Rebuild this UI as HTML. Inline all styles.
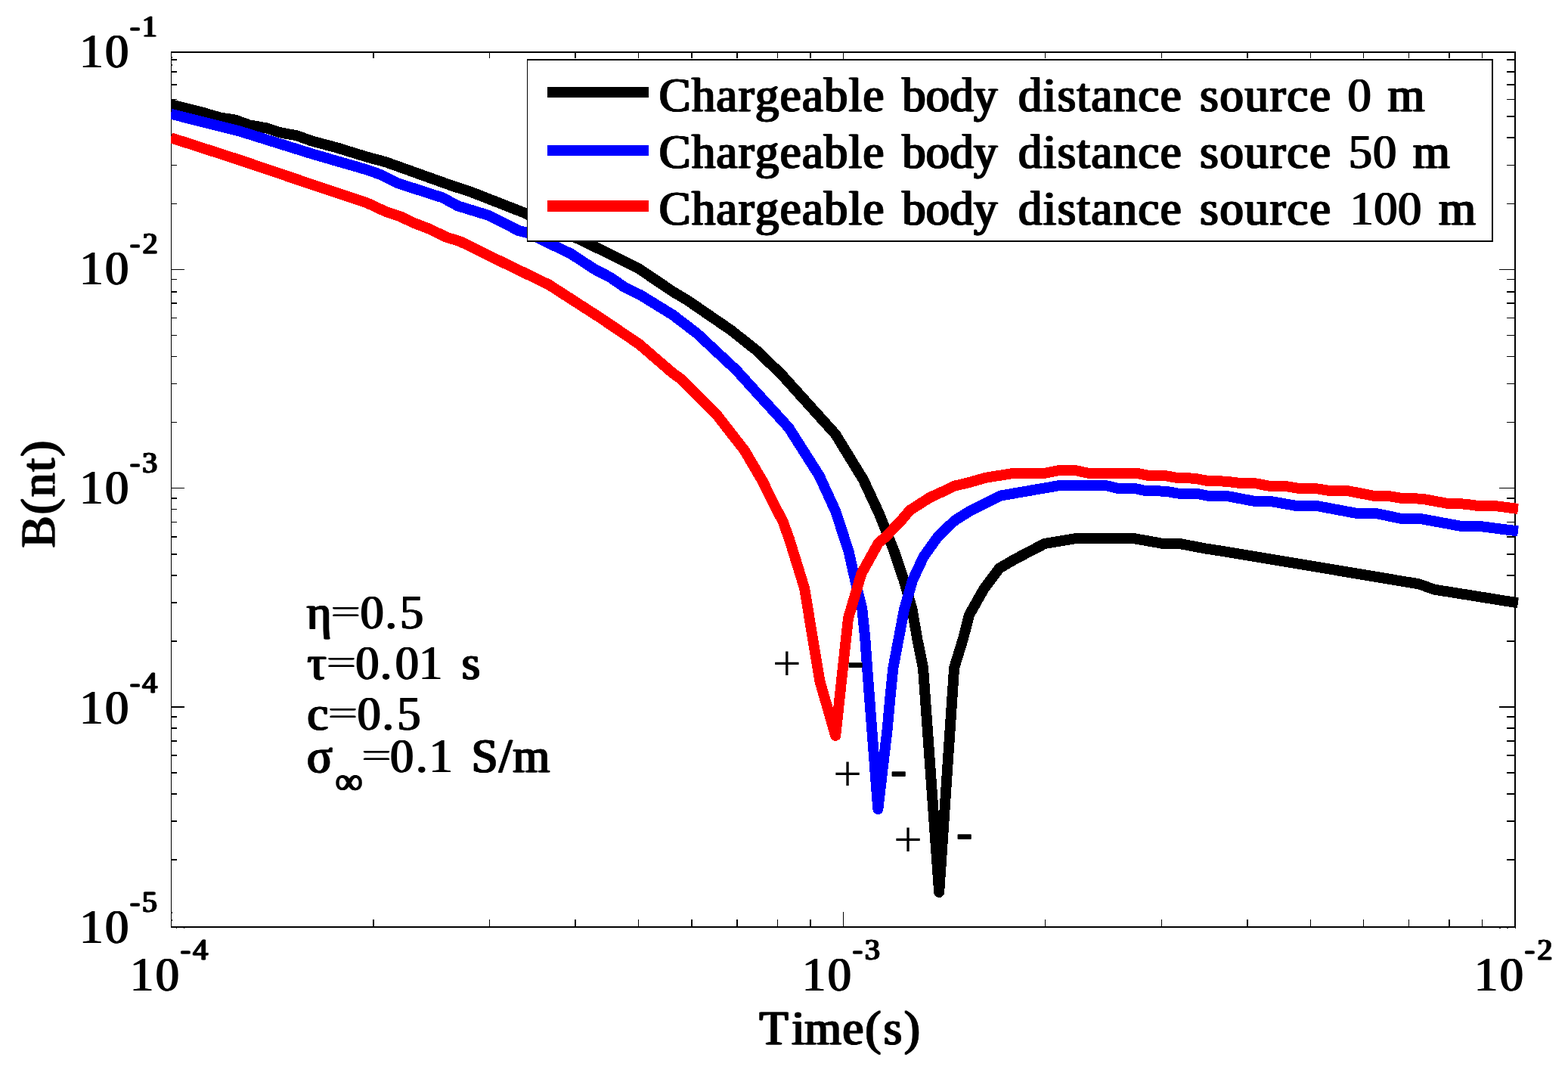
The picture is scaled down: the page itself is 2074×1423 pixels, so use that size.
<!DOCTYPE html>
<html lang="en">
<head>
<meta charset="utf-8">
<title>B(nt) versus Time(s) for a chargeable body at three source distances</title>
<style>
html,body{margin:0;padding:0;background:#fff;}
body{width:2074px;height:1423px;overflow:hidden;}
svg{display:block;}
</style>
</head>
<body>
<svg width="2074" height="1423" viewBox="0 0 2074 1423">
<rect x="0" y="0" width="2074" height="1423" fill="#fff"/>
<g fill="#000" shape-rendering="crispEdges">
<rect x="226" y="68" width="1.2" height="1159"/>
<rect x="2003" y="68" width="2" height="1159"/>
<rect x="226" y="68" width="1779" height="2"/>
<rect x="226" y="1225" width="1779" height="2"/>
<rect x="493.0" y="1216.0" width="2.0" height="9"/>
<rect x="493.0" y="70.0" width="2.0" height="7"/>
<rect x="647.1" y="1216.0" width="1.1" height="9"/>
<rect x="647.1" y="70.0" width="1.1" height="7"/>
<rect x="760.0" y="1216.0" width="2.0" height="9"/>
<rect x="760.0" y="70.0" width="2.0" height="7"/>
<rect x="844.2" y="1216.0" width="1.1" height="9"/>
<rect x="844.2" y="70.0" width="1.1" height="7"/>
<rect x="914.0" y="1216.0" width="2.0" height="9"/>
<rect x="914.0" y="70.0" width="2.0" height="7"/>
<rect x="974.0" y="1216.0" width="2.0" height="9"/>
<rect x="974.0" y="70.0" width="2.0" height="7"/>
<rect x="1027.8" y="1216.0" width="1.1" height="9"/>
<rect x="1027.8" y="70.0" width="1.1" height="7"/>
<rect x="1071.0" y="1216.0" width="2.0" height="9"/>
<rect x="1071.0" y="70.0" width="2.0" height="7"/>
<rect x="1114.9" y="1206.0" width="1.1" height="19"/>
<rect x="1114.9" y="70.0" width="1.1" height="17"/>
<rect x="1382.2" y="1216.0" width="1.1" height="9"/>
<rect x="1382.2" y="70.0" width="1.1" height="7"/>
<rect x="1536.0" y="1216.0" width="1.1" height="9"/>
<rect x="1536.0" y="70.0" width="1.1" height="7"/>
<rect x="1649.0" y="1216.0" width="2.0" height="9"/>
<rect x="1649.0" y="70.0" width="2.0" height="7"/>
<rect x="1732.9" y="1216.0" width="1.1" height="9"/>
<rect x="1732.9" y="70.0" width="1.1" height="7"/>
<rect x="1803.0" y="1216.0" width="1.1" height="9"/>
<rect x="1803.0" y="70.0" width="1.1" height="7"/>
<rect x="1863.0" y="1216.0" width="1.1" height="9"/>
<rect x="1863.0" y="70.0" width="1.1" height="7"/>
<rect x="1916.0" y="1216.0" width="2.0" height="9"/>
<rect x="1916.0" y="70.0" width="2.0" height="7"/>
<rect x="1960.0" y="1216.0" width="1.1" height="9"/>
<rect x="1960.0" y="70.0" width="1.1" height="7"/>
<rect x="227" y="1136.2" width="7" height="1.6"/>
<rect x="1993" y="1136.2" width="10" height="1.6"/>
<rect x="227" y="1085.3" width="7" height="1.6"/>
<rect x="1993" y="1085.3" width="10" height="1.6"/>
<rect x="227" y="1049.2" width="7" height="1.6"/>
<rect x="1993" y="1049.2" width="10" height="1.6"/>
<rect x="227" y="1021.1" width="7" height="1.6"/>
<rect x="1993" y="1021.1" width="10" height="1.6"/>
<rect x="227" y="998.2" width="7" height="1.6"/>
<rect x="1993" y="998.2" width="10" height="1.6"/>
<rect x="227" y="978.9" width="7" height="1.6"/>
<rect x="1993" y="978.9" width="10" height="1.6"/>
<rect x="227" y="962.1" width="7" height="1.6"/>
<rect x="1993" y="962.1" width="10" height="1.6"/>
<rect x="227" y="947.3" width="7" height="1.6"/>
<rect x="1993" y="947.3" width="10" height="1.6"/>
<rect x="227" y="934.1" width="17" height="1.6"/>
<rect x="1983" y="934.1" width="20" height="1.6"/>
<rect x="227" y="847.0" width="7" height="1.6"/>
<rect x="1993" y="847.0" width="10" height="1.6"/>
<rect x="227" y="796.0" width="7" height="1.6"/>
<rect x="1993" y="796.0" width="10" height="1.6"/>
<rect x="227" y="759.9" width="7" height="1.6"/>
<rect x="1993" y="759.9" width="10" height="1.6"/>
<rect x="227" y="731.9" width="7" height="1.6"/>
<rect x="1993" y="731.9" width="10" height="1.6"/>
<rect x="227" y="709.0" width="7" height="1.6"/>
<rect x="1993" y="709.0" width="10" height="1.6"/>
<rect x="227" y="689.6" width="7" height="1.6"/>
<rect x="1993" y="689.6" width="10" height="1.6"/>
<rect x="227" y="672.8" width="7" height="1.6"/>
<rect x="1993" y="672.8" width="10" height="1.6"/>
<rect x="227" y="658.0" width="7" height="1.6"/>
<rect x="1993" y="658.0" width="10" height="1.6"/>
<rect x="227" y="644.8" width="17" height="1.6"/>
<rect x="1983" y="644.8" width="20" height="1.6"/>
<rect x="227" y="557.7" width="7" height="1.6"/>
<rect x="1993" y="557.7" width="10" height="1.6"/>
<rect x="227" y="506.8" width="7" height="1.6"/>
<rect x="1993" y="506.8" width="10" height="1.6"/>
<rect x="227" y="470.7" width="7" height="1.6"/>
<rect x="1993" y="470.7" width="10" height="1.6"/>
<rect x="227" y="442.6" width="7" height="1.6"/>
<rect x="1993" y="442.6" width="10" height="1.6"/>
<rect x="227" y="419.7" width="7" height="1.6"/>
<rect x="1993" y="419.7" width="10" height="1.6"/>
<rect x="227" y="400.4" width="7" height="1.6"/>
<rect x="1993" y="400.4" width="10" height="1.6"/>
<rect x="227" y="385.3" width="7" height="1.6"/>
<rect x="1993" y="385.3" width="10" height="1.6"/>
<rect x="227" y="368.8" width="7" height="1.6"/>
<rect x="1993" y="368.8" width="10" height="1.6"/>
<rect x="227" y="355.6" width="17" height="1.6"/>
<rect x="1983" y="355.6" width="20" height="1.6"/>
<rect x="227" y="268.5" width="7" height="1.6"/>
<rect x="1993" y="268.5" width="10" height="1.6"/>
<rect x="227" y="217.5" width="7" height="1.6"/>
<rect x="1993" y="217.5" width="10" height="1.6"/>
<rect x="227" y="181.4" width="7" height="1.6"/>
<rect x="1993" y="181.4" width="10" height="1.6"/>
<rect x="227" y="153.4" width="7" height="1.6"/>
<rect x="1993" y="153.4" width="10" height="1.6"/>
<rect x="227" y="130.5" width="7" height="1.6"/>
<rect x="1993" y="130.5" width="10" height="1.6"/>
<rect x="227" y="111.1" width="7" height="1.6"/>
<rect x="1993" y="111.1" width="10" height="1.6"/>
<rect x="227" y="94.3" width="7" height="1.6"/>
<rect x="1993" y="94.3" width="10" height="1.6"/>
<rect x="227" y="78.1" width="7" height="1.6"/>
<rect x="1993" y="78.1" width="10" height="1.6"/>
<rect x="226.8" y="1206.2" width="1.4" height="1.7"/>
<rect x="226.8" y="1216.1" width="1.4" height="1.8"/>
<rect x="226.8" y="75.1" width="1.4" height="1.7"/>
<rect x="226.8" y="85.2" width="1.4" height="1.7"/>
<rect x="232.7" y="1226.8" width="1.6" height="1.2"/>
<rect x="242.6" y="1226.8" width="1.7" height="1.2"/>
<rect x="1982.9" y="1226.8" width="2.0" height="1.2"/>
<rect x="1993.0" y="1226.8" width="2.0" height="1.2"/>
<rect x="2003.6" y="1226.8" width="1.6" height="1.5"/>
</g>
<defs><clipPath id="cp"><rect x="226" y="60" width="1782.5" height="1172"/></clipPath></defs>
<g clip-path="url(#cp)" fill="none" stroke-width="14.0" stroke-linejoin="round" stroke-linecap="butt" shape-rendering="crispEdges">
<polyline stroke="#000000" points="225.8,138.3 267.4,148.6 291.2,155.5 311.2,158.6 330.1,165.5 352.6,169.3 371.4,175.5 392.7,179.3 411.5,186.2 446.6,195.6 486.0,207.8 509.9,214.2 600.0,246.4 620.0,252.7 692.8,281.2 793.2,329.5 845.4,355.6 889.9,385.6 909.2,397.1 967.1,436.8 1000.0,462.9 1033.6,495.1 1105.1,574.3 1141.8,634.2 1163.0,679.6 1182.5,728.6 1195.5,767.3 1206.5,805.9 1213.2,844.6 1221.0,883.2 1242.2,1180.0 1262.1,883.2 1274.0,844.6 1281.8,813.7 1301.6,778.5 1321.8,751.6 1342.1,739.7 1381.7,719.0 1420.9,712.4 1501.5,712.4 1536.3,718.6 1560.4,719.0 1595.2,725.6 1610.0,727.8 1876.7,772.3 1897.0,779.6 2008.0,797.4"/>
<polyline stroke="#0000ff" points="225.8,150.6 316.6,173.4 413.2,203.6 486.0,224.7 503.6,231.0 526.1,242.3 585.7,261.5 605.7,272.4 646.5,284.9 686.0,305.0 697.9,308.1 754.6,335.3 787.8,356.9 806.6,366.4 826.6,380.2 846.7,389.9 889.9,416.5 922.0,441.0 973.7,489.3 1043.2,565.6 1083.8,629.4 1105.1,675.8 1122.4,728.6 1131.1,767.3 1140.4,805.9 1144.3,844.6 1147.1,883.2 1150.0,921.9 1153.3,965.0 1161.3,1070.0 1173.6,965.0 1177.5,921.9 1181.4,883.2 1188.7,844.6 1196.0,805.9 1207.1,767.3 1221.5,736.4 1240.9,709.3 1262.9,688.3 1283.1,675.7 1323.1,655.6 1400.0,642.3 1463.8,642.3 1477.3,645.6 1501.5,646.1 1516.0,649.2 1541.1,649.6 1557.5,652.5 1583.6,652.9 1598.1,655.8 1610.0,655.9 1625.5,656.5 1658.3,662.7 1681.5,663.1 1714.3,668.9 1743.3,669.3 1795.5,679.1 1822.6,679.5 1853.5,685.9 1880.5,686.3 1932.7,695.9 1959.8,696.3 2008.0,702.5"/>
<polyline stroke="#ff0000" points="225.8,182.1 316.6,211.5 413.2,244.2 486.0,268.6 511.1,280.3 528.6,285.9 546.2,294.4 568.7,303.0 590.0,313.5 608.9,319.4 658.0,343.6 725.6,376.3 793.2,419.8 845.4,455.1 889.9,493.5 900.2,500.9 946.6,546.7 984.7,595.6 1008.5,636.1 1026.8,672.9 1035.7,690.0 1044.0,713.0 1064.1,777.9 1072.8,831.1 1084.3,900.6 1105.2,972.9 1118.2,852.3 1122.0,817.5 1139.4,758.6 1162.0,718.0 1170.8,710.5 1190.6,690.0 1203.6,674.8 1230.0,657.9 1250.0,648.7 1262.9,642.5 1280.2,638.6 1303.4,631.8 1340.1,626.0 1380.7,626.0 1400.0,622.2 1423.2,622.2 1440.6,626.0 1504.4,626.0 1517.9,628.7 1541.1,629.1 1558.5,632.2 1579.8,632.6 1597.1,635.9 1610.0,636.2 1623.5,636.8 1640.9,639.1 1662.2,639.5 1677.6,642.6 1700.8,643.0 1718.2,645.9 1743.3,646.5 1758.8,649.0 1783.9,649.4 1818.7,656.1 1840.0,656.5 1855.4,659.2 1880.5,659.6 1915.3,666.0 1938.5,666.6 1955.9,669.1 1981.0,669.5 2008.0,672.9"/>
</g>
<g shape-rendering="crispEdges">
<rect x="697" y="78" width="1278" height="242" fill="#000"/>
<rect x="698.2" y="80" width="1274.8" height="238" fill="#fff"/>
<rect x="724" y="115.0" width="134" height="14.0" fill="#000000"/>
<rect x="724" y="192.0" width="134" height="14.0" fill="#0000ff"/>
<rect x="724" y="265.0" width="134" height="15.0" fill="#ff0000"/>
</g>
<defs><filter id="sm" x="-10%" y="-25%" width="120%" height="150%"><feOffset in="SourceGraphic" dx="-1.35" result="a"/><feOffset in="SourceGraphic" dx="-0.45" result="b"/><feOffset in="SourceGraphic" dx="0.45" result="c"/><feOffset in="SourceGraphic" dx="1.35" result="d"/><feMerge><feMergeNode in="a"/><feMergeNode in="b"/><feMergeNode in="c"/><feMergeNode in="d"/></feMerge></filter></defs>
<defs><filter id="smd" x="-10%" y="-25%" width="120%" height="150%"><feOffset in="SourceGraphic" dx="-0.80" result="a"/><feOffset in="SourceGraphic" dx="-0.27" result="b"/><feOffset in="SourceGraphic" dx="0.27" result="c"/><feOffset in="SourceGraphic" dx="0.80" result="d"/><feMerge><feMergeNode in="a"/><feMergeNode in="b"/><feMergeNode in="c"/><feMergeNode in="d"/></feMerge></filter></defs>
<g font-family="'Liberation Serif', serif" font-size="62.5" fill="#000" stroke="#000" stroke-linejoin="round" style="font-kerning:none;font-variant-ligatures:none">
<text filter="url(#sm)"><tspan x="871.79" y="147.30" letter-spacing="1.439" stroke-width="0.6">Chargeable</tspan> <tspan x="1193.25" y="147.30" letter-spacing="0.348" stroke-width="0.6">body</tspan> <tspan x="1347.09" y="147.30" letter-spacing="1.507" stroke-width="0.6">distance</tspan> <tspan x="1587.19" y="147.30" letter-spacing="1.923" stroke-width="0.6">source</tspan> <tspan x="1782.58" y="147.30" stroke="none">0</tspan> <tspan x="1835.72" y="147.30" stroke-width="0.6">m</tspan></text>
<text filter="url(#sm)"><tspan x="871.79" y="222.20" letter-spacing="1.439" stroke-width="0.6">Chargeable</tspan> <tspan x="1193.25" y="222.20" letter-spacing="0.348" stroke-width="0.6">body</tspan> <tspan x="1347.09" y="222.20" letter-spacing="1.507" stroke-width="0.6">distance</tspan> <tspan x="1587.19" y="222.20" letter-spacing="1.923" stroke-width="0.6">source</tspan> <tspan x="1783.72" y="222.20" letter-spacing="0.912" stroke="none">50</tspan> <tspan x="1869.12" y="222.20" stroke-width="0.6">m</tspan></text>
<text filter="url(#sm)"><tspan x="871.79" y="296.70" letter-spacing="1.439" stroke-width="0.6">Chargeable</tspan> <tspan x="1193.25" y="296.70" letter-spacing="0.348" stroke-width="0.6">body</tspan> <tspan x="1347.09" y="296.70" letter-spacing="1.507" stroke-width="0.6">distance</tspan> <tspan x="1587.19" y="296.70" letter-spacing="1.923" stroke-width="0.6">source</tspan> <tspan x="1785.56" y="296.70" letter-spacing="0.462" stroke="none">100</tspan> <tspan x="1903.17" y="296.70" stroke-width="0.6">m</tspan></text>
<text filter="url(#smd)"><tspan x="105.16 138.93" y="89.30" stroke="none">10</tspan><tspan x="171.90 187.88" y="48.40" font-size="39.5" stroke-width="0.5">-1</tspan></text>
<text filter="url(#smd)"><tspan x="105.16 138.93" y="376.20" stroke="none">10</tspan><tspan x="171.90 188.65" y="335.30" font-size="39.5" stroke-width="0.5">-2</tspan></text>
<text filter="url(#smd)"><tspan x="105.16 138.93" y="666.20" stroke="none">10</tspan><tspan x="171.90 188.25" y="625.30" font-size="39.5" stroke-width="0.5">-3</tspan></text>
<text filter="url(#smd)"><tspan x="105.16 138.93" y="957.20" stroke="none">10</tspan><tspan x="171.90 188.35" y="916.30" font-size="39.5" stroke-width="0.5">-4</tspan></text>
<text filter="url(#smd)"><tspan x="105.16 138.93" y="1247.20" stroke="none">10</tspan><tspan x="171.90 188.05" y="1206.30" font-size="39.5" stroke-width="0.5">-5</tspan></text>
<text filter="url(#smd)"><tspan x="172.06 205.82" y="1310.30" stroke="none">10</tspan><tspan x="238.80 255.25" y="1269.40" font-size="39.5" stroke-width="0.5">-4</tspan></text>
<text filter="url(#smd)"><tspan x="1060.96 1094.72" y="1310.30" stroke="none">10</tspan><tspan x="1127.70 1144.05" y="1269.40" font-size="39.5" stroke-width="0.5">-3</tspan></text>
<text filter="url(#smd)"><tspan x="1950.06 1983.83" y="1310.30" stroke="none">10</tspan><tspan x="2016.80 2033.55" y="1269.40" font-size="39.5" stroke-width="0.5">-2</tspan></text>
<text filter="url(#sm)"><tspan x="1004.51 1047.31 1064.36 1114.48 1144.41 1168.72 1196.06" y="1381.20" stroke-width="0.6">Time(s)</tspan></text>
<text filter="url(#sm)" transform="translate(71.9,724) rotate(-90)"><tspan x="-0.15" y="0.00" letter-spacing="2.330" stroke-width="0.6">B(nt)</tspan></text>
<text filter="url(#sm)"><tspan x="405.85" y="830.60" stroke-width="0.6">η</tspan><tspan x="437.81" y="823.87" font-size="46.0" stroke="none" textLength="38.90" lengthAdjust="spacingAndGlyphs">=</tspan><tspan x="476.48 509.39 529.03" y="830.60" stroke="none">0.5</tspan></text>
<text filter="url(#sm)"><tspan x="406.54" y="897.90" stroke-width="0.6">τ</tspan><tspan x="432.01" y="891.17" font-size="46.0" stroke="none" textLength="38.90" lengthAdjust="spacingAndGlyphs">=</tspan><tspan x="470.18 502.64 522.83 554.01" y="897.90" stroke="none">0.01</tspan> <tspan x="610.69" y="897.90" stroke-width="0.6">s</tspan></text>
<text filter="url(#sm)"><tspan x="406.45" y="964.50" stroke-width="0.6">c</tspan><tspan x="433.91" y="957.77" font-size="46.0" stroke="none" textLength="38.90" lengthAdjust="spacingAndGlyphs">=</tspan><tspan x="472.57 505.54 525.13" y="964.50" stroke="none">0.5</tspan></text>
<text filter="url(#sm)"><tspan x="405.89" y="1021.20" stroke-width="0.6">σ</tspan><tspan x="443.48" y="1050.46" font-size="51.0" stroke-width="0.4">∞</tspan><tspan x="478.41" y="1014.47" font-size="46.0" stroke="none" textLength="38.90" lengthAdjust="spacingAndGlyphs">=</tspan><tspan x="516.08 549.94 567.51" y="1021.20" stroke="none">0.1</tspan> <tspan x="623.87" y="1021.20" letter-spacing="1.259" stroke-width="0.6">S/m</tspan></text>
<text><tspan x="1021.83" y="900.21" font-size="67.5" stroke="none">+</tspan> <tspan x="1121.26" y="895.32" stroke-width="2.0">-</tspan></text>
<text><tspan x="1101.93" y="1046.31" font-size="67.5" stroke="none">+</tspan> <tspan x="1178.26" y="1038.92" stroke-width="2.0">-</tspan></text>
<text><tspan x="1181.93" y="1133.21" font-size="67.5" stroke="none">+</tspan> <tspan x="1265.21" y="1121.92" stroke-width="2.0">-</tspan></text>
</g>
</svg>
</body>
</html>
